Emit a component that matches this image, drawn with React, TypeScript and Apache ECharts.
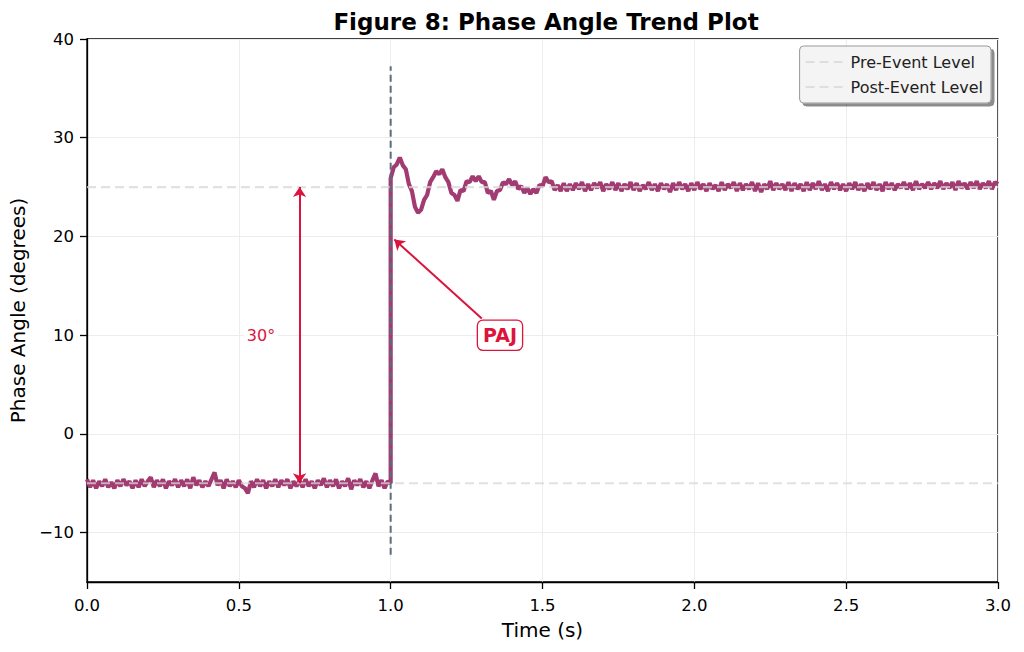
import React, { useEffect, useRef } from "react";
import * as echarts from "echarts";

// Sampling and reference levels
const SAMPLE_STEP = 0.01;
const EVENT_TIME = 1.0;
const PRE_LEVEL = -5;
const POST_LEVEL = 25;
const ARROW_TIME = 0.7;

const X_TICKS = [0, 0.5, 1, 1.5, 2, 2.5, 3];
const Y_TICKS = [-10, 0, 10, 20, 30, 40];

// Phase angle samples, t = 0.00 .. 1.00 s
const preEvent = [
  -4.6, -5.4, -4.7, -5.5, -4.8, -5.3, -4.6, -5.4, -4.9, -5.5,
  -4.7, -5.3, -4.6, -5.2, -4.8, -5.5, -4.7, -5.4, -4.6, -5.3,
  -4.8, -4.4, -5.4, -4.7, -5.3, -4.6, -5.5, -4.8, -5.2, -4.6,
  -5.4, -4.7, -5.3, -4.6, -5.5, -4.4, -5.2, -4.7, -5.4, -4.8,
  -5.3, -4.6, -3.9, -5.2, -4.7, -5.5, -4.6, -5.3, -4.8, -5.4,
  -4.7, -5.3, -5.5, -6.0, -4.8, -5.4, -4.6, -5.3, -4.7, -5.5,
  -4.8, -5.3, -4.6, -5.4, -4.7, -5.2, -4.6, -5.5, -4.8, -5.3,
  -4.7, -5.4, -4.6, -5.3, -4.8, -5.5, -4.7, -5.2, -4.5, -5.4,
  -4.7, -5.3, -4.6, -5.5, -4.8, -5.3, -4.5, -5.6, -4.7, -5.2,
  -4.6, -5.4, -4.8, -5.5, -4.7, -4.0, -5.3, -4.7, -5.5, -4.8,
  -5.0,
];

// Phase angle samples, t = 1.00 .. 3.00 s
const postEvent = [
  25.9, 27.0, 27.3, 28.0, 27.2, 26.8, 25.3, 24.6, 23.0, 22.4,
  22.7, 23.7, 24.2, 25.5, 26.0, 26.6, 26.3, 26.8, 26.0, 25.5,
  24.4, 24.2, 23.6, 24.7, 24.6, 25.6, 25.5, 26.1, 25.6, 26.1,
  25.5, 25.5, 24.4, 24.6, 23.7, 24.6, 24.7, 25.5, 25.3, 25.8,
  25.2, 25.6, 24.8, 25.1, 24.4, 24.9, 24.3, 24.8, 24.4, 25.2,
  25.1, 26.0, 25.5, 25.6, 24.7, 25.2, 24.6, 25.4, 24.6, 25.3,
  24.7, 25.4, 24.8, 25.5, 24.6, 25.3, 24.7, 25.4, 24.9, 25.5,
  24.6, 25.3, 24.8, 25.5, 24.7, 25.4, 24.6, 25.3, 24.8, 25.5,
  24.7, 25.4, 24.6, 25.2, 24.8, 25.5, 24.7, 25.3, 24.6, 25.4,
  24.8, 25.3, 24.5, 25.4, 24.7, 25.5, 24.8, 25.3, 24.6, 25.4,
  24.7, 25.5, 24.8, 25.3, 24.6, 25.4, 24.8, 25.2, 24.6, 25.5,
  24.7, 25.3, 24.9, 25.5, 24.6, 25.4, 24.7, 25.3, 24.8, 25.5,
  24.6, 25.4, 24.5, 25.3, 24.8, 25.6, 24.7, 25.4, 24.8, 25.3,
  24.7, 25.5, 24.6, 25.4, 24.8, 25.3, 24.6, 25.5, 24.7, 25.4,
  24.8, 25.6, 24.7, 25.3, 24.6, 25.5, 24.8, 25.4, 24.7, 25.3,
  24.6, 25.4, 24.8, 25.5, 24.7, 25.3, 24.6, 25.4, 24.8, 25.5,
  24.7, 25.3, 24.6, 25.5, 24.8, 25.4, 24.7, 25.3, 24.9, 25.5,
  24.8, 25.4, 24.7, 25.6, 24.8, 25.3, 24.9, 25.5, 24.8, 25.4,
  24.9, 25.6, 24.8, 25.4, 24.9, 25.5, 24.7, 25.6, 24.9, 25.4,
  24.8, 25.5, 24.9, 25.6, 24.8, 25.4, 24.9, 25.6, 24.8, 25.5,
  25.3,
];

// Event marker span (vertical dashed line)
const MARKER_SPAN = [-12.25, 37.25];

// PAJ callout: label position and arrow end points
const PAJ_LABEL = [1.36, 10];
const PAJ_ARROW_FROM = [1.3, 11.7];
const PAJ_ARROW_TO = [1.012, 19.7];
const DELTA_LABEL = [0.573, 10];

const FONT = "DejaVu Sans";
const SIGNAL_COLOR = "#a23b72";
const ACCENT = "#dc143c";
const LEVEL_COLOR = "rgba(215,215,215,0.75)";

const round2 = (v: number) => Math.round(v * 100) / 100;

export default function App() {
  const ref = useRef<HTMLDivElement>(null);

  useEffect(() => {
    document.body.style.margin = "0";
    if (!ref.current) return;
    const chart = echarts.init(ref.current, null, { renderer: "svg" });

    const signal = [
      ...preEvent.map((v, i) => [round2(i * SAMPLE_STEP), v]),
      ...postEvent.map((v, i) => [round2(EVENT_TIME + i * SAMPLE_STEP), v]),
    ];

    const fmtY = (v: number) => String(v).replace("-", "\u2212");
    const xEnds = [X_TICKS[0], X_TICKS[X_TICKS.length - 1]];

    chart.setOption({
      animation: false,
      textStyle: { fontFamily: FONT },
      title: {
        text: "Figure 8: Phase Angle Trend Plot",
        left: 541,
        top: 5,
        textAlign: "center",
        textStyle: { fontFamily: FONT, fontSize: 23, fontWeight: "bold", color: "#000" },
      },
      grid: {
        left: 87,
        right: 26,
        top: 39,
        bottom: 70,
        outerBoundsMode: "none",
        containLabel: false,
        show: true,
        borderColor: "#000",
        borderWidth: 1.3,
        backgroundColor: "transparent",
      },
      legend: {
        data: [
          { name: "Pre-Event Level", itemStyle: { opacity: 0 } },
          { name: "Post-Event Level", itemStyle: { opacity: 0 } },
        ],
        orient: "vertical",
        right: 33,
        top: 46,
        padding: [8, 8, 8, 5],
        itemGap: 9,
        itemWidth: 40,
        itemHeight: 14,
        backgroundColor: "#f4f4f4",
        borderColor: "#999",
        borderWidth: 1,
        borderRadius: 4,
        shadowColor: "rgba(0,0,0,0.45)",
        shadowOffsetX: 3,
        shadowOffsetY: 3,
        shadowBlur: 0,
        textStyle: { fontFamily: FONT, fontSize: 16, color: "#222" },
      },
      xAxis: {
        type: "value",
        min: 0,
        max: 3,
        interval: 0.5,
        name: "Time (s)",
        nameLocation: "middle",
        nameGap: 38,
        nameTextStyle: { fontFamily: FONT, fontSize: 20, color: "#000" },
        axisLine: { show: true, onZero: false, lineStyle: { color: "#000", width: 1.3 } },
        axisTick: { show: true, length: 7, lineStyle: { color: "#000", width: 1.3 } },
        axisLabel: {
          fontFamily: FONT,
          fontSize: 16.5,
          color: "#000",
          margin: 15,
          formatter: (v: number) => v.toFixed(1),
          customValues: X_TICKS,
        },
        splitLine: { show: true, lineStyle: { color: "#ededed", width: 1 } },
      },
      yAxis: {
        type: "value",
        min: -15,
        max: 40,
        name: "Phase Angle (degrees)",
        nameLocation: "middle",
        nameGap: 57,
        nameTextStyle: { fontFamily: FONT, fontSize: 20, color: "#000" },
        axisLine: { show: true, onZero: false, lineStyle: { color: "#000", width: 1.3 } },
        axisTick: { show: true, length: 7, lineStyle: { color: "#000", width: 1.3 }, customValues: Y_TICKS },
        axisLabel: {
          fontFamily: FONT,
          fontSize: 16.5,
          color: "#000",
          margin: 13,
          formatter: fmtY,
          customValues: Y_TICKS,
        },
        splitLine: { show: true, lineStyle: { color: "#ededed", width: 1 } },
      },
      series: [
        {
          name: "Phase Angle",
          type: "line",
          data: signal,
          showSymbol: false,
          symbol: "none",
          z: 2,
          lineStyle: { color: SIGNAL_COLOR, width: 4.2 },
          itemStyle: { color: SIGNAL_COLOR },
        },
        {
          name: "Pre-Event Level",
          type: "line",
          data: xEnds.map((x) => [x, PRE_LEVEL]),
          symbol: "none",
          z: 3,
          lineStyle: { color: LEVEL_COLOR, width: 2.2, type: [9, 5] },
          itemStyle: { color: LEVEL_COLOR },
        },
        {
          name: "Post-Event Level",
          type: "line",
          data: xEnds.map((x) => [x, POST_LEVEL]),
          symbol: "none",
          z: 3,
          lineStyle: { color: LEVEL_COLOR, width: 2.2, type: [9, 5] },
          itemStyle: { color: LEVEL_COLOR },
        },
        {
          name: "Event",
          type: "line",
          data: MARKER_SPAN.map((y) => [EVENT_TIME, y]),
          symbol: "none",
          z: 4,
          lineStyle: { color: "#5d6b7b", width: 2, type: [7, 4] },
          silent: true,
        },
        {
          name: "Annotations",
          type: "scatter",
          z: 5,
          symbolSize: 1,
          itemStyle: { color: "transparent", opacity: 1 },
          silent: true,
          data: [
            {
              value: DELTA_LABEL,
              label: {
                show: true,
                position: "inside",
                formatter: `${POST_LEVEL - PRE_LEVEL}°`,
                fontFamily: FONT,
                fontSize: 16,
                color: ACCENT,
                opacity: 1,
                backgroundColor: "#fff",
                padding: [2, 3],
              },
            },
            {
              value: PAJ_LABEL,
              label: {
                show: true,
                position: "inside",
                formatter: "PAJ",
                fontFamily: FONT,
                fontSize: 19,
                fontWeight: "bold",
                color: ACCENT,
                opacity: 1,
                backgroundColor: "#fff",
                borderColor: ACCENT,
                borderWidth: 1.3,
                borderRadius: 5,
                padding: [6, 5, 4, 5],
              },
            },
          ],
          markLine: {
            silent: true,
            animation: false,
            label: { show: false },
            lineStyle: { color: ACCENT, width: 2, type: "solid", opacity: 1 },
            symbolSize: 10,
            data: [
              [
                { coord: [ARROW_TIME, PRE_LEVEL], symbol: "arrow" },
                { coord: [ARROW_TIME, POST_LEVEL], symbol: "arrow" },
              ],
              [
                { coord: PAJ_ARROW_FROM, symbol: "none" },
                { coord: PAJ_ARROW_TO, symbol: "arrow" },
              ],
            ],
          },
        },
      ],
    });

    return () => chart.dispose();
  }, []);

  return <div ref={ref} style={{ width: 1024, height: 652 }} />;
}
